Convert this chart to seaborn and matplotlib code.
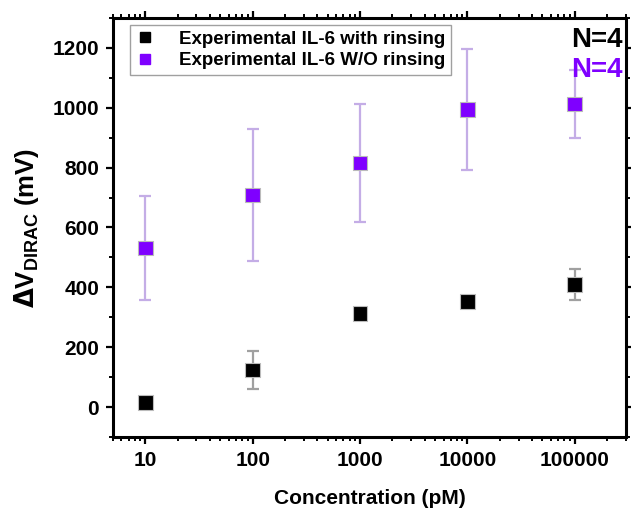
import matplotlib
matplotlib.use("Agg")
import matplotlib.pyplot as plt
import matplotlib.ticker as mticker
from matplotlib.lines import Line2D
import numpy as np
import pandas as pd
import seaborn as sns

# Concentrations (pM)
concentration = [10, 100, 1000, 10000, 100000]

# Experimental IL-6 with rinsing
rinse_mean = [16, 124, 313, 352, 410]
rinse_err = [10, 64, 12, 14, 51]

# Experimental IL-6 without rinsing
norinse_mean = [531, 709, 816, 994, 1012]
norinse_err = [173, 220, 198, 203, 114]

labels = ["Experimental IL-6 with rinsing", "Experimental IL-6 W/O rinsing"]
colors = ["#000000", "#7F00FF"]
err_colors = ["#A0A0A0", "#C4ADE6"]

df = pd.DataFrame({
    "conc": concentration * 2,
    "dv": rinse_mean + norinse_mean,
    "err": rinse_err + norinse_err,
    "series": [labels[0]] * 5 + [labels[1]] * 5,
})

sns.set_theme(style="ticks")
plt.rcParams["font.family"] = ["Liberation Sans", "DejaVu Sans"]
plt.rcParams["font.weight"] = "bold"
for key in ["text.color", "axes.labelcolor", "xtick.color", "ytick.color", "axes.edgecolor"]:
    plt.rcParams[key] = "black"

fig = plt.figure(figsize=(6.31, 5.08), dpi=100)
ax = fig.add_axes([0.179, 0.1398, 0.813, 0.8248])

for lab, ecol in zip(labels, err_colors):
    sub = df[df["series"] == lab]
    ax.errorbar(sub["conc"], sub["dv"], yerr=sub["err"], fmt="none",
                ecolor=ecol, elinewidth=1.6, capsize=4.5, capthick=1.6, zorder=2)

sns.scatterplot(data=df, x="conc", y="dv", hue="series", palette=colors,
                marker="s", s=110, edgecolor="#BBBBBB", linewidth=0.8,
                ax=ax, zorder=3, legend=False)

ax.set_xscale("log")
ax.set_xlim(5, 3e5)
ax.set_ylim(-100, 1300)
ax.set_xticks(concentration)
ax.xaxis.set_major_formatter(mticker.FixedFormatter([str(c) for c in concentration]))
ax.xaxis.set_minor_locator(mticker.LogLocator(base=10, subs=np.arange(2, 10)))
ax.xaxis.set_minor_formatter(mticker.NullFormatter())
ax.set_yticks([0, 200, 400, 600, 800, 1000, 1200])
ax.yaxis.set_minor_locator(mticker.MultipleLocator(100))

ax.tick_params(axis="both", which="major", direction="out", length=5, width=1.6,
               labelsize=15, top=True, right=True, labeltop=False, labelright=False,
               pad=5, colors="black")
ax.tick_params(axis="both", which="minor", direction="out", length=3, width=1.4,
               top=True, right=True)
for lbl in ax.get_xticklabels() + ax.get_yticklabels():
    lbl.set_fontweight("bold")

for sp in ax.spines.values():
    sp.set_visible(True)
    sp.set_linewidth(2.2)
    sp.set_color("black")

ax.set_xlabel("Concentration (pM)", fontsize=15, fontweight="bold", labelpad=14)
ax.set_ylabel(r"$\Delta$V$_{\mathregular{DIRAC}}$ (mV)", fontsize=18.5,
              fontweight="bold", labelpad=8)

handles = [Line2D([], [], linestyle="none", marker="s", markersize=7.5,
                  markerfacecolor=c, markeredgecolor=c) for c in colors]
leg = ax.legend(handles, labels, loc="upper left", bbox_to_anchor=(0.033, 0.983),
                frameon=True, fancybox=False, edgecolor="#888888", fontsize=13.5,
                handletextpad=1.3, borderpad=0.3, labelspacing=0.22,
                handlelength=1.0, borderaxespad=0)
leg.get_frame().set_linewidth(1.0)
for t in leg.get_texts():
    t.set_fontweight("bold")

ax.text(0.993, 0.978, "N=4", transform=ax.transAxes, ha="right", va="top",
        fontsize=20, fontweight="bold", color="black")
ax.text(0.993, 0.906, "N=4", transform=ax.transAxes, ha="right", va="top",
        fontsize=20, fontweight="bold", color="#7F00FF")

fig.savefig("out.png", dpi=100)
